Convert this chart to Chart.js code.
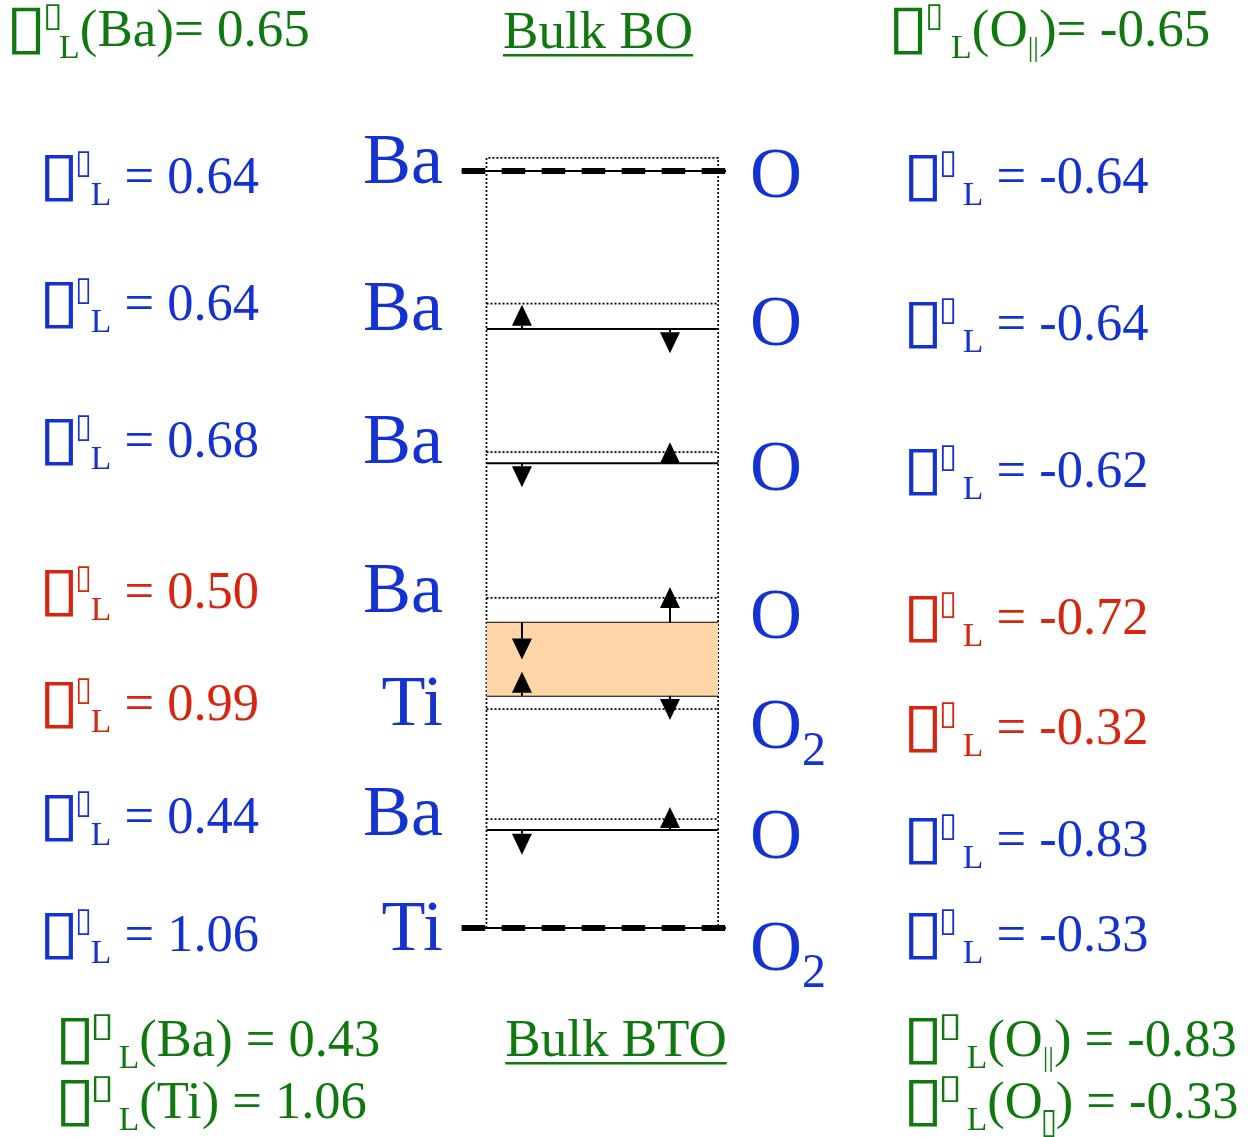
<!DOCTYPE html>
<html>
<head>
<meta charset="utf-8">
<script src="https://cdn.jsdelivr.net/npm/chart.js@4.4.1/dist/chart.umd.min.js"></script>
<style>
  html, body { margin: 0; padding: 0; background: #fff; }
  #wrap { width: 1251px; height: 1137px; }
</style>
</head>
<body>
<div id="wrap"><canvas id="c" width="1251" height="1137"></canvas></div>
<script>
// Atomic planes of the slab, listed from top (BO side) to bottom (BTO side).
const cationNames = ['Ba', 'Ba', 'Ba', 'Ba', 'Ti', 'Ba', 'Ti'];
const anionNames  = ['O', 'O', 'O', 'O', 'O2', 'O', 'O2'];
const cationZL = [0.64, 0.64, 0.68, 0.50, 0.99, 0.44, 1.06];
const anionZL  = [-0.64, -0.64, -0.62, -0.72, -0.32, -0.83, -0.33];
const interfacePlanes = [3, 4];           // planes bounding the shaded interface cell
// Plane heights (Å) above the bottom TiO2 plane.
const relaxedHeight = [13.76, 10.89, 8.45, 5.55, 4.22, 1.78, 0];
const bulkHeight    = [14.00, 11.35, 8.65, 6.00, 3.98, 1.98, 0];
// Ionic displacements (Å, positive = up) drawn as arrows.
const cationShift = [null, 0.44, -0.44, -0.67, 0.44, -0.45, null];
const anionShift  = [null, -0.44, 0.38, 0.65, -0.44, 0.42, null];
// Bulk reference charges.
const bulkBOZL  = [0.65, -0.65];                  // Ba, O∥
const bulkBTOZL = [0.43, 1.06, -0.83, -0.33];     // Ba, Ti, O∥, O⊥

const BLUE = '#1432d2', RED = '#d7260f', GREEN = '#0f780f';
const SERIF = '"Liberation Serif", "Times New Roman", serif';
const BOXFONT = '"DejaVu Sans", sans-serif';

const pts = (x0, x1, y) => [{ x: x0, y }, { x: x1, y }];
const datasets = [];

// shaded interface cell
datasets.push({
  data: pts(0, 1, relaxedHeight[interfacePlanes[0]]),
  fill: { value: relaxedHeight[interfacePlanes[1]] },
  backgroundColor: '#ffd6a8', borderWidth: 0
});
// dotted outline of the bulk cell stack
datasets.push({
  data: [{ x: 0, y: 0 }, { x: 0, y: bulkHeight[0] }, { x: 1, y: bulkHeight[0] }, { x: 1, y: 0 }],
  borderColor: '#000', borderWidth: 1.7, borderDash: [2, 2], fill: false
});
// dotted bulk plane positions and solid relaxed positions for inner planes
for (let i = 1; i < relaxedHeight.length - 1; i++) {
  datasets.push({ data: pts(0, 1, bulkHeight[i]), borderColor: '#000', borderWidth: 1.7, borderDash: [2, 2], fill: false });
  datasets.push({ data: pts(0, 1, relaxedHeight[i]), borderColor: '#000', borderWidth: 2, fill: false });
}
// outer planes: thick dashed lines over a thin solid line
[0, relaxedHeight.length - 1].forEach(i => {
  datasets.push({ data: pts(-0.107, 1.034, relaxedHeight[i]), borderColor: '#000', borderWidth: 2, fill: false });
  datasets.push({ data: pts(-0.107, 1.034, relaxedHeight[i]), borderColor: '#000', borderWidth: 6,
    borderDash: [23.5, 16.5], borderCapStyle: 'butt', fill: false });
});

// arrows for the ionic displacements
const arrowPlugin = {
  id: 'arrows',
  afterDatasetsDraw(chart) {
    const { ctx, scales: { x, y } } = chart;
    const draw = (u, h0, dh) => {
      const px = x.getPixelForValue(u);
      const y0 = y.getPixelForValue(h0), y1 = y.getPixelForValue(h0 + dh);
      const dir = Math.sign(y1 - y0), head = 21, half = 10;
      ctx.save();
      ctx.strokeStyle = '#000'; ctx.fillStyle = '#000'; ctx.lineWidth = 2;
      ctx.beginPath(); ctx.moveTo(px, y0); ctx.lineTo(px, y1 - dir * head); ctx.stroke();
      ctx.beginPath();
      ctx.moveTo(px, y1);
      ctx.lineTo(px - half, y1 - dir * head);
      ctx.lineTo(px + half, y1 - dir * head);
      ctx.closePath(); ctx.fill();
      ctx.restore();
    };
    relaxedHeight.forEach((h, i) => {
      if (cationShift[i] != null) draw(0.153, h, cationShift[i]);
      if (anionShift[i] != null) draw(0.792, h, anionShift[i]);
    });
  }
};

// a box glyph stretched to fill a given rectangle (relative to the baseline)
function drawBoxGlyph(ctx, x, base, w, top, bottom) {
  ctx.save();
  ctx.font = `100px ${BOXFONT}`;
  const m = ctx.measureText('\u25AF');
  const gw = m.actualBoundingBoxLeft + m.actualBoundingBoxRight;
  const gh = m.actualBoundingBoxAscent + m.actualBoundingBoxDescent;
  ctx.translate(x, base + top);
  ctx.scale(w / gw, (bottom - top) / gh);
  ctx.textAlign = 'left'; ctx.textBaseline = 'alphabetic';
  ctx.fillText('\u25AF', m.actualBoundingBoxLeft, m.actualBoundingBoxAscent);
  ctx.restore();
}

// text runs: each part may change size and vertical offset, or be a stretched box glyph
function runs(ctx, x, y, parts, color) {
  ctx.fillStyle = color; ctx.textAlign = 'left'; ctx.textBaseline = 'alphabetic';
  for (const p of parts) {
    x += p.dx || 0;
    if (p.box) {
      drawBoxGlyph(ctx, x, y, p.w, p.top, p.bottom);
      x += p.w;
      continue;
    }
    ctx.font = `${p.size}px ${p.family || SERIF}`;
    ctx.fillText(p.t, x, y + (p.dy || 0));
    x += ctx.measureText(p.t).width;
  }
  return x;
}
// "Z*L" prefix: large box, small raised box, subscript L; g1/g2 are the gaps around the small box
function zPrefix(s, sw, g1, g2) {
  return [
    { box: true, w: 0.53 * s, top: -0.73 * s, bottom: 0.17 * s },
    { box: true, w: sw, top: -0.79 * s, bottom: -0.29 * s, dx: g1 },
    { t: 'L', size: s * 0.64, dy: s * 0.23, dx: g2 }
  ];
}

const textPlugin = {
  id: 'labels',
  afterDraw(chart) {
    const { ctx } = chart;
    ctx.save();
    // per-plane charge labels
    const leftBase  = [193, 320, 457, 608, 720, 833, 951];
    const rightBase = [193, 340, 487, 634, 744, 856, 951];
    const catBase   = [183, 330, 463, 612, 725, 835, 950];
    const anBase    = [197, 345, 490, 638, 748, 858, 970];
    const hi = i => interfacePlanes.includes(i);
    const B = 52.5;
    cationZL.forEach((v, i) => {
      runs(ctx, 45, leftBase[i], [...zPrefix(B, 11, 5, 2), { t: ' = ' + v.toFixed(2), size: B }], hi(i) ? RED : BLUE);
    });
    anionZL.forEach((v, i) => {
      runs(ctx, 909, rightBase[i], [...zPrefix(B, 12, 5, 9), { t: ' = ' + v.toFixed(2), size: B }], hi(i) ? RED : BLUE);
    });
    // element names
    cationNames.forEach((n, i) => {
      ctx.font = `72px ${SERIF}`; ctx.fillStyle = BLUE; ctx.textAlign = 'right';
      ctx.fillText(n, 443, catBase[i]);
    });
    anionNames.forEach((n, i) => {
      const parts = n.length > 1 ? [{ t: n[0], size: 72 }, { t: n.slice(1), size: 48, dy: 17 }] : [{ t: n, size: 72 }];
      runs(ctx, 750, anBase[i], parts, BLUE);
    });
    // bulk references
    const G = 53, G2 = 52.5;
    const par = { t: '||', size: 28, dy: 10 };
    runs(ctx, 12, 46, [...zPrefix(G, 13, 6, 0), { t: '(Ba)= ' + bulkBOZL[0].toFixed(2), size: G }], GREEN);
    runs(ctx, 894, 46, [...zPrefix(G, 12, 6, 11), { t: '(O', size: G }, par,
      { t: ')= ' + bulkBOZL[1].toFixed(2), size: G }], GREEN);
    runs(ctx, 61, 1056, [...zPrefix(G2, 16, 5, 9), { t: '(Ba) = ' + bulkBTOZL[0].toFixed(2), size: G2 }], GREEN);
    runs(ctx, 61, 1118, [...zPrefix(G2, 16, 5, 9), { t: '(Ti) = ' + bulkBTOZL[1].toFixed(2), size: G2 }], GREEN);
    runs(ctx, 909, 1056, [...zPrefix(G2, 16, 5, 9), { t: '(O', size: G2 }, par,
      { t: ') = ' + bulkBTOZL[2].toFixed(2), size: G2 }], GREEN);
    runs(ctx, 909, 1118, [...zPrefix(G2, 16, 5, 9), { t: '(O', size: G2 },
      { box: true, w: 11, top: -8, bottom: 20, dx: 1 },
      { t: ') = ' + bulkBTOZL[3].toFixed(2), size: G2, dx: 1 }], GREEN);
    // underlined headings
    const heading = (t, cx, base) => {
      ctx.font = `53px ${SERIF}`;
      const w = ctx.measureText(t).width;
      runs(ctx, cx - w / 2, base, [{ t, size: 53 }], GREEN);
      ctx.fillStyle = GREEN; ctx.fillRect(cx - w / 2, base + 6, w, 2.5);
    };
    heading('Bulk BO', 598, 48);
    heading('Bulk BTO', 616, 1056);
    ctx.restore();
  }
};

new Chart(document.getElementById('c'), {
  type: 'scatter',
  data: { datasets: datasets.map(d => Object.assign({ showLine: true, pointRadius: 0, pointHoverRadius: 0, tension: 0 }, d)) },
  options: {
    responsive: false, animation: false, events: [],
    layout: { padding: 0 },
    plugins: { legend: { display: false }, tooltip: { enabled: false } },
    scales: {
      x: { type: 'linear', min: -2.1, max: 3.3, display: false },
      y: { type: 'linear', min: -3.8, max: 16.87, display: false }
    }
  },
  plugins: [arrowPlugin, textPlugin]
});
</script>
</body>
</html>
